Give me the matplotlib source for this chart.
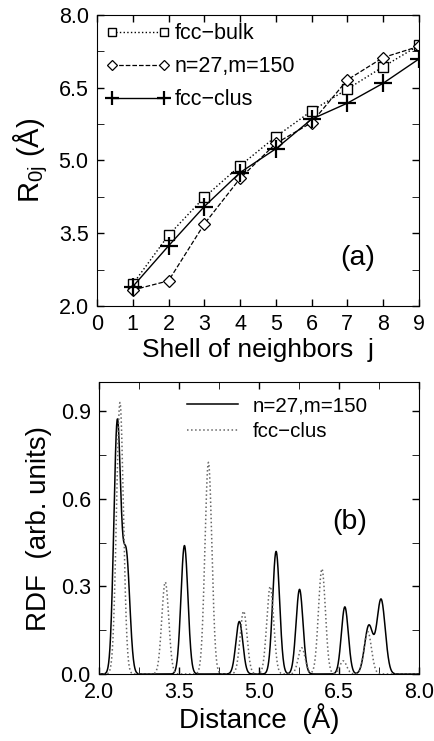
import numpy as np
import matplotlib
matplotlib.use('Agg')
import matplotlib.pyplot as plt
from matplotlib.ticker import FormatStrFormatter

plt.rcParams['font.family'] = ['Liberation Sans', 'DejaVu Sans']
plt.rcParams['mathtext.fontset'] = 'custom'
plt.rcParams['mathtext.rm'] = 'Liberation Sans'
plt.rcParams['mathtext.it'] = 'Liberation Sans'
plt.rcParams['mathtext.default'] = 'regular'

# panel (a): shell radii
shells = [1, 2, 3, 4, 5, 6, 7, 8, 9]
r_bulk = [2.45, 3.46, 4.24, 4.89, 5.49, 6.02, 6.47, 6.93, 7.37]
r_n27 = [2.33, 2.52, 3.69, 4.63, 5.35, 5.78, 6.66, 7.12, 7.35]
r_clus = [2.40, 3.24, 4.05, 4.75, 5.24, 5.85, 6.18, 6.59, 7.09]

# panel (b): RDF peaks (position, height, width)
n27_pos = [2.34, 2.51, 3.60, 4.63, 5.32, 5.76, 6.61, 7.06, 7.29]
n27_h = [0.86, 0.40, 0.44, 0.18, 0.42, 0.29, 0.23, 0.165, 0.255]
n27_w = [0.065, 0.065, 0.065, 0.065, 0.065, 0.065, 0.065, 0.078, 0.078]
clus_pos = [2.39, 3.24, 4.05, 4.71, 5.21, 5.80, 6.18, 6.58, 7.04]
clus_h = [0.93, 0.315, 0.725, 0.215, 0.30, 0.09, 0.36, 0.045, 0.145]
clus_w = [0.065, 0.065, 0.065, 0.065, 0.065, 0.065, 0.065, 0.065, 0.07]


def rdf(r, pos, h, w):
    g = np.zeros_like(r)
    for p, a, s in zip(pos, h, w):
        g += a * np.exp(-0.5 * ((r - p) / s) ** 2)
    return g


fig = plt.figure(figsize=(4.35, 7.41), dpi=100)

ax1 = fig.add_axes([0.223, 0.587, 0.740, 0.393])
ax1.plot(shells, r_bulk, 's:', color='black', lw=1, ms=7, mfc='white',
         mew=1, label='fcc\u2212bulk')
ax1.plot(shells, r_n27, 'D--', color='black', lw=0.9, ms=6, mfc='white',
         mew=0.9, label='n=27,m=150')
ax1.plot(shells, r_clus, '+-', color='black', lw=1, ms=13, mew=1.6,
         label='fcc\u2212clus')
ax1.set_xlim(0, 9)
ax1.set_ylim(2.0, 8.0)
ax1.set_xticks(range(0, 10))
ax1.set_yticks([2.0, 3.5, 5.0, 6.5, 8.0])
ax1.set_yticks([2.75, 4.25, 5.75, 7.25], minor=True)
ax1.yaxis.set_major_formatter(FormatStrFormatter('%.1f'))
ax1.tick_params(direction='in', right=True, top=True, labelsize=15.5,
                length=5, width=1, pad=6)
ax1.tick_params(which='minor', direction='in', right=True, length=5)
ax1.set_xlabel('Shell of neighbors  j', fontsize=19, labelpad=2)
ax1.set_ylabel('R$_{0j}$ (Å)', fontsize=21, labelpad=6)
ax1.legend(loc='upper left', numpoints=2, frameon=False, fontsize=15.5,
           handlelength=3.0, handletextpad=0.2, borderaxespad=0.0,
           labelspacing=0.55, markerscale=0.8)
ax1.text(0.81, 0.165, '(a)', transform=ax1.transAxes, fontsize=20.5,
         ha='center', va='center')

r = np.linspace(2.0, 8.0, 2000)
ax2 = fig.add_axes([0.228, 0.0904, 0.735, 0.394])
ax2.plot(r, rdf(r, n27_pos, n27_h, n27_w), '-', color='black', lw=1.1,
         label='n=27,m=150')
ax2.plot(r, rdf(r, clus_pos, clus_h, clus_w), ':', color='#666666', lw=1.1,
         label='fcc\u2212clus')
ax2.set_xlim(2.0, 8.0)
ax2.set_ylim(0.0, 1.0)
ax2.set_xticks([2.0, 3.5, 5.0, 6.5, 8.0])
ax2.set_xticks([2.75, 4.25, 5.75, 7.25], minor=True)
ax2.set_yticks([0.0, 0.3, 0.6, 0.9])
ax2.set_yticks([0.15, 0.45, 0.75], minor=True)
ax2.xaxis.set_major_formatter(FormatStrFormatter('%.1f'))
ax2.yaxis.set_major_formatter(FormatStrFormatter('%.1f'))
ax2.tick_params(direction='in', right=True, top=True, labelsize=15.5,
                length=5, width=1, pad=6)
ax2.tick_params(which='minor', direction='in', right=True, top=True, length=5)
ax2.set_xlabel('Distance  (Å)', fontsize=20, labelpad=0)
ax2.set_ylabel('RDF  (arb. units)', fontsize=20, labelpad=6)
ax2.legend(loc='upper left', bbox_to_anchor=(0.275, 0.95), frameon=False,
           fontsize=14.8, handlelength=2.5, handletextpad=0.7,
           borderaxespad=0.0, borderpad=0.0, labelspacing=0.3)
ax2.text(0.785, 0.52, '(b)', transform=ax2.transAxes, fontsize=20.5,
         ha='center', va='center')

fig.savefig('out.png', dpi=100)
